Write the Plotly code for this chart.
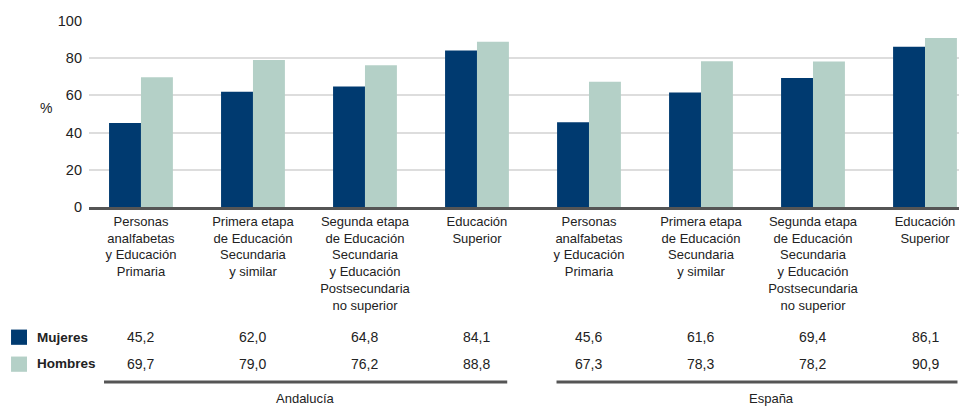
import plotly.graph_objects as go

# datos
categorias = [
    "Personas<br>analfabetas<br>y Educación<br>Primaria",
    "Primera etapa<br>de Educación<br>Secundaria<br>y similar",
    "Segunda etapa<br>de Educación<br>Secundaria<br>y Educación<br>Postsecundaria<br>no superior",
    "Educación<br>Superior",
] * 2
mujeres = [45.2, 62.0, 64.8, 84.1, 45.6, 61.6, 69.4, 86.1]
hombres = [69.7, 79.0, 76.2, 88.8, 67.3, 78.3, 78.2, 90.9]
grupos = ["Andalucía", "España"]
y_ticks = [0, 20, 40, 60, 80, 100]

pos = list(range(len(mujeres)))
FONT = "Liberation Sans, Arial, sans-serif"
C_MUJ = "#003a70"
C_HOM = "#b4d0c7"

fig = go.Figure()
fig.add_trace(go.Bar(x=pos, y=mujeres, name="Mujeres", marker=dict(color=C_MUJ, line_width=0)))
fig.add_trace(go.Bar(x=pos, y=hombres, name="Hombres", marker=dict(color=C_HOM, line_width=0)))

# la página añade 8px de margen al body: se compensa aquí
fig.update_layout(
    width=967, height=406,
    margin=dict(l=81, r=8, t=13, b=207),
    paper_bgcolor="white", plot_bgcolor="white",
    barmode="group", bargap=0.43, bargroupgap=0,
    showlegend=False,
    font=dict(family=FONT, color="#222"),
)
fig.update_xaxes(
    range=[-0.464, 7.375], tickvals=pos, ticktext=categorias,
    tickfont=dict(size=13), showgrid=False, ticks="", automargin=False,
    showline=True, linecolor="#555", linewidth=3, zeroline=False,
)
fig.update_yaxes(
    range=[0, 100], tickvals=y_ticks, tickfont=dict(size=14.5), automargin=False,
    showgrid=True, gridcolor="#dddddd", gridwidth=2, zeroline=False,
    ticks="", ticklabelstandoff=6,
)

# unidad
fig.add_annotation(text="%", x=-0.049, y=0.532, xref="paper", yref="paper",
                   xanchor="center", yanchor="middle", showarrow=False, font=dict(size=14))

# tabla de valores
filas = [("Mujeres", mujeres, C_MUJ, -0.699), ("Hombres", hombres, C_HOM, -0.844)]
for nombre, valores, color, yy in filas:
    fig.add_shape(type="rect", xref="paper", yref="paper",
                  x0=-0.0888, x1=-0.0706, y0=yy - 0.042, y1=yy + 0.040,
                  fillcolor=color, line_width=0)
    fig.add_annotation(text="<b>" + nombre + "</b>", x=-0.0615, y=yy, xref="paper", yref="paper",
                       xanchor="left", yanchor="middle", showarrow=False, font=dict(size=13.5))
    for i, v in enumerate(valores):
        fig.add_annotation(text=f"{v:.1f}".replace(".", ","), x=pos[i], y=yy,
                           xref="x", yref="paper", xanchor="center", yanchor="middle",
                           showarrow=False, font=dict(size=14))

# grupos
for g, (x0, x1, xl) in zip(grupos, [(-0.33, 3.27, 1.47), (3.71, 7.29, 5.63)]):
    fig.add_shape(type="line", xref="x", yref="paper", x0=x0, x1=x1, y0=-0.941, y1=-0.941,
                  line=dict(color="#555", width=3))
    fig.add_annotation(text=g, x=xl, y=-1.032, xref="x", yref="paper",
                       xanchor="center", yanchor="middle", showarrow=False, font=dict(size=13))

fig.write_html("out.html")
